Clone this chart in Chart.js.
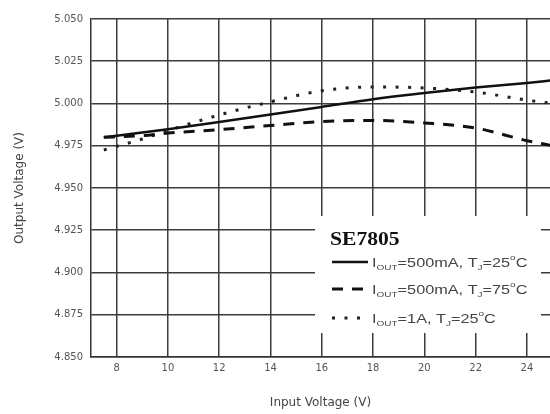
<!DOCTYPE html>
<html>
<head>
<meta charset="utf-8">
<title>SE7805 Output Voltage vs Input Voltage</title>
<script src="https://cdn.jsdelivr.net/npm/chart.js@4"></script>
<style>
  html, body { margin: 0; padding: 0; background: #fff; }
  canvas { display: block; }
</style>
</head>
<body>
<canvas id="vout" width="550" height="414"></canvas>
<script>
// input voltage (V) sample points shared by all three curves
const inputVoltage = [7.5, 9, 10, 12, 14, 16, 18, 20, 22, 24, 25];
// output voltage (V)
const vout500mA25C = [4.980, 4.9828, 4.9848, 4.989, 4.9935, 4.998, 5.0025, 5.0062, 5.0094, 5.0122, 5.0137];
const vout500mA75C = [4.980, 4.981, 4.9825, 4.9845, 4.987, 4.9893, 4.990, 4.9885, 4.9855, 4.978, 4.975];
const vout1A25C = [4.9725, 4.979, 4.984, 4.9932, 5.001, 5.0075, 5.0098, 5.0092, 5.0068, 5.002, 5.000];

const xTicks = [8, 10, 12, 14, 16, 18, 20, 22, 24];
const yTicks = [4.850, 4.875, 4.900, 4.925, 4.950, 4.975, 5.000, 5.025, 5.050];

const legendTitle = 'SE7805';
// each row: [text, 'sub' | 'sup' | undefined]
const legendRows = [
  [['I'], ['OUT', 'sub'], ['=500mA, T'], ['J', 'sub'], ['=25'], ['o', 'sup'], ['C']],
  [['I'], ['OUT', 'sub'], ['=500mA, T'], ['J', 'sub'], ['=75'], ['o', 'sup'], ['C']],
  [['I'], ['OUT', 'sub'], ['=1A, T'], ['J', 'sub'], ['=25'], ['o', 'sup'], ['C']]
];

const points = ys => inputVoltage.map((x, i) => ({ x: x, y: ys[i] }));

const SX = 1.25; // text is drawn a bit wide

function drawRich(ctx, parts, x, y) {
  let cx = x;
  for (const [t, kind] of parts) {
    const size = kind ? 8 : 13;
    const dy = kind === 'sub' ? 3 : kind === 'sup' ? -7 : 0;
    ctx.font = size + 'px "Liberation Sans"';
    ctx.save();
    ctx.translate(cx, y + dy);
    ctx.scale(SX, 1);
    ctx.fillText(t, 0, 0);
    ctx.restore();
    cx += ctx.measureText(t).width * SX;
  }
}

// boxed legend inside the plot, with sub/superscripts
const legendBox = {
  id: 'legendBox',
  afterDatasetsDraw(chart) {
    const ctx = chart.ctx;
    const left = 315, top = 216;
    ctx.save();
    ctx.fillStyle = '#fff';
    ctx.fillRect(left, top, 226, 117);

    ctx.fillStyle = '#111';
    ctx.textBaseline = 'alphabetic';
    ctx.font = 'bold 18px "Liberation Serif"';
    ctx.save();
    ctx.translate(left + 15, top + 29);
    ctx.scale(1.2, 1);
    ctx.fillText(legendTitle, 0, 0);
    ctx.restore();

    const rowY = [262, 289, 318];
    chart.data.datasets.forEach((ds, i) => {
      const y = rowY[i];
      ctx.strokeStyle = ds.borderColor;
      ctx.lineWidth = ds.borderWidth;
      ctx.setLineDash(ds.borderDash || []);
      ctx.beginPath();
      ctx.moveTo(left + 17, y);
      ctx.lineTo(left + 53, y);
      ctx.stroke();
      ctx.setLineDash([]);
      ctx.fillStyle = '#444';
      drawRich(ctx, legendRows[i], left + 57, y + 5);
    });
    ctx.restore();
  }
};

const gridColor = '#3c3c3c';
const tickFont = { family: 'DejaVu Sans', size: 10 };
const titleFont = { family: 'DejaVu Sans', size: 12 };

new Chart(document.getElementById('vout'), {
  type: 'line',
  data: {
    datasets: [
      {
        label: 'IOUT=500mA, TJ=25°C',
        data: points(vout500mA25C),
        borderColor: '#111',
        borderWidth: 2.5
      },
      {
        label: 'IOUT=500mA, TJ=75°C',
        data: points(vout500mA75C),
        borderColor: '#111',
        borderWidth: 3,
        borderDash: [11, 9]
      },
      {
        label: 'IOUT=1A, TJ=25°C',
        data: points(vout1A25C),
        borderColor: '#222',
        borderWidth: 3,
        borderDash: [3, 9.5]
      }
    ]
  },
  options: {
    responsive: false,
    animation: false,
    layout: { padding: { top: 19, right: 0, left: 0, bottom: 0 } },
    elements: {
      point: { radius: 0 },
      line: { cubicInterpolationMode: 'monotone', borderCapStyle: 'butt' }
    },
    plugins: {
      legend: { display: false },
      tooltip: { enabled: false }
    },
    scales: {
      x: {
        type: 'linear',
        min: 7,
        max: 24.9,
        afterBuildTicks: s => { s.ticks = xTicks.map(v => ({ value: v })); },
        afterFit: s => { s.height = 57; },
        grid: { color: gridColor, lineWidth: 1.5, drawTicks: false },
        border: { color: '#333', width: 1.5 },
        ticks: { padding: 5, color: '#555', font: tickFont, callback: v => String(v) },
        title: {
          display: true,
          text: 'Input Voltage (V)',
          color: '#444',
          font: titleFont,
          padding: { top: 0, bottom: 4 }
        }
      },
      y: {
        min: 4.85,
        max: 5.05,
        afterBuildTicks: s => { s.ticks = yTicks.map(v => ({ value: v })); },
        afterFit: s => { s.width = 91; },
        grid: { color: gridColor, lineWidth: 1.5, drawTicks: false },
        border: { color: '#333', width: 1.5 },
        ticks: { padding: 8, color: '#555', font: tickFont, callback: v => v.toFixed(3) },
        title: {
          display: true,
          text: 'Output Voltage (V)',
          color: '#444',
          font: titleFont,
          padding: { top: 13, bottom: 0 }
        }
      }
    }
  },
  plugins: [legendBox]
});
</script>
</body>
</html>
